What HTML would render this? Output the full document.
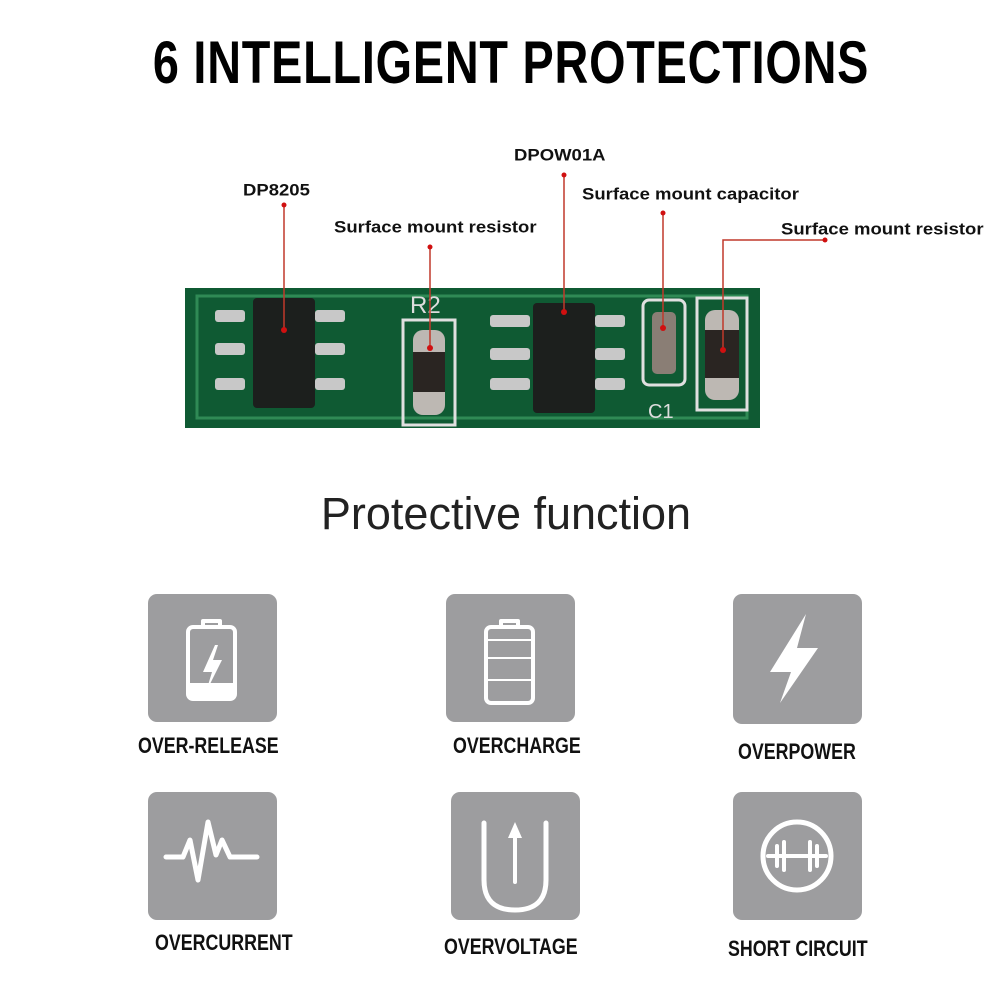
<!DOCTYPE html>
<html><head><style>
html,body{margin:0;padding:0;background:#fff;width:1000px;height:1000px;overflow:hidden}
body{position:relative;font-family:"Liberation Sans",sans-serif}
.t{position:absolute;white-space:nowrap}
.title{left:11px;width:1000px;text-align:center;top:28px;font-size:60px;font-weight:bold;transform:scaleX(0.78);letter-spacing:1px}
.lbl{font-size:18.5px;font-weight:bold;color:#111;transform:scaleY(0.92)}
.box{position:absolute;width:129px;height:128px;background:#9d9d9f;border-radius:9px}
.cap{position:absolute;font-weight:bold;font-size:22px;transform:scaleX(0.81);transform-origin:left top;color:#111}
</style></head><body>
<div class="t title">6 INTELLIGENT PROTECTIONS</div>
<div class="t lbl" style="left:243px;top:179px">DP8205</div>
<div class="t lbl" style="left:334px;top:216px">Surface mount resistor</div>
<div class="t lbl" style="left:514px;top:144px">DPOW01A</div>
<div class="t lbl" style="left:582px;top:183px">Surface mount capacitor</div>
<div class="t lbl" style="left:781px;top:218px">Surface mount resistor</div>

<svg width="1000" height="1000" style="position:absolute;left:0;top:0">
<rect x="185" y="288" width="575" height="140" fill="#0f5a33"/>
<rect x="197" y="296" width="550" height="122" fill="none" stroke="#2f8a55" stroke-width="3"/>
<g fill="#c8c8c8">
<rect x="215" y="310" width="30" height="12" rx="3"/><rect x="215" y="343" width="30" height="12" rx="3"/><rect x="215" y="378" width="30" height="12" rx="3"/>
<rect x="315" y="310" width="30" height="12" rx="3"/><rect x="315" y="343" width="30" height="12" rx="3"/><rect x="315" y="378" width="30" height="12" rx="3"/>
<rect x="490" y="315" width="40" height="12" rx="3"/><rect x="490" y="348" width="40" height="12" rx="3"/><rect x="490" y="378" width="40" height="12" rx="3"/>
<rect x="595" y="315" width="30" height="12" rx="3"/><rect x="595" y="348" width="30" height="12" rx="3"/><rect x="595" y="378" width="30" height="12" rx="3"/>
</g>
<rect x="253" y="298" width="62" height="110" rx="4" fill="#1c1f1d"/>
<rect x="533" y="303" width="62" height="110" rx="4" fill="#1c1f1d"/>
<rect x="403" y="320" width="52" height="105" fill="none" stroke="#e0e0e0" stroke-width="3"/>
<rect x="413" y="330" width="32" height="85" rx="10" fill="#bdb8b3"/><rect x="413" y="352" width="32" height="40" fill="#2a2522"/>
<rect x="643" y="300" width="42" height="85" rx="6" fill="none" stroke="#e0e0e0" stroke-width="3"/>
<rect x="652" y="312" width="24" height="62" rx="5" fill="#8a7e75"/>
<rect x="697" y="298" width="50" height="112" fill="none" stroke="#e0e0e0" stroke-width="3"/>
<rect x="705" y="310" width="34" height="90" rx="10" fill="#bdb8b3"/><rect x="705" y="330" width="34" height="48" fill="#2a2522"/>
<text x="410" y="313" fill="#ddd" font-size="24" font-family="Liberation Sans">R2</text>
<text x="648" y="418" fill="#ddd" font-size="20" font-family="Liberation Sans">C1</text>
<g stroke="#c0392b" stroke-width="1.5" fill="none">
<line x1="284" y1="205" x2="284" y2="330"/>
<line x1="430" y1="247" x2="430" y2="348"/>
<line x1="564" y1="175" x2="564" y2="312"/>
<line x1="663" y1="213" x2="663" y2="328"/>
<polyline points="825,240 723,240 723,350"/>
</g>
<g fill="#d01010">
<circle cx="284" cy="205" r="2.5"/><circle cx="430" cy="247" r="2.5"/><circle cx="564" cy="175" r="2.5"/><circle cx="663" cy="213" r="2.5"/><circle cx="825" cy="240" r="2.5"/>
<circle cx="284" cy="330" r="3"/><circle cx="430" cy="348" r="3"/><circle cx="564" cy="312" r="3"/><circle cx="663" cy="328" r="3"/><circle cx="723" cy="350" r="3"/>
</g>
</svg>

<div class="t" style="left:6px;width:1000px;text-align:center;top:488px;font-size:45px;color:#222">Protective function</div>

<div class="box" style="left:148px;top:594px"></div>
<div class="box" style="left:446px;top:594px"></div>
<div class="box" style="left:733px;top:594px;height:130px"></div>
<div class="box" style="left:148px;top:792px"></div>
<div class="box" style="left:451px;top:792px"></div>
<div class="box" style="left:733px;top:792px"></div>

<svg width="1000" height="1000" style="position:absolute;left:0;top:0">
<g stroke="#fff" stroke-width="4" fill="none" stroke-linecap="round" stroke-linejoin="round">
<rect x="188" y="627" width="47" height="72" rx="5"/>
<polyline points="203,626 203,621 220,621 220,626"/>
<rect x="486" y="627" width="47" height="76" rx="5"/>
<polyline points="501,626 501,621 518,621 518,626"/>
<line x1="488" y1="658" x2="531" y2="658" stroke-width="2"/><line x1="488" y1="680" x2="531" y2="680" stroke-width="2"/><line x1="488" y1="640" x2="531" y2="640" stroke-width="2"/>
<polyline points="166,857 183,857 190,840 198,880 208,822 216,855 222,840 230,857 257,857" stroke-width="5"/>
<path d="M484 823 V880 Q484 910 515 910 Q546 910 546 880 V823" stroke-width="5"/>
<line x1="515" y1="882" x2="515" y2="830" stroke-width="4"/>
<circle cx="797" cy="856" r="34" stroke-width="5"/>
<line x1="768" y1="856" x2="826" y2="856"/>
<line x1="777" y1="846" x2="777" y2="866"/><line x1="784" y1="842" x2="784" y2="870"/>
<line x1="817" y1="846" x2="817" y2="866"/><line x1="810" y1="842" x2="810" y2="870"/>
</g>
<g fill="#fff">
<rect x="190" y="683" width="43" height="14"/>
<polygon points="215,645 203,672 212,672 206,692 222,660 213,660 218,645"/>
<polygon points="806,614 770,672 791,672 780,703 818,648 797,648"/>
<polygon points="515,822 508,838 522,838"/>
</g>
</svg>

<div class="cap" style="left:138px;top:733px">OVER-RELEASE</div>
<div class="cap" style="left:453px;top:733px">OVERCHARGE</div>
<div class="cap" style="left:738px;top:739px">OVERPOWER</div>
<div class="cap" style="left:155px;top:930px">OVERCURRENT</div>
<div class="cap" style="left:444px;top:934px">OVERVOLTAGE</div>
<div class="cap" style="left:728px;top:936px">SHORT CIRCUIT</div>
</body></html>
